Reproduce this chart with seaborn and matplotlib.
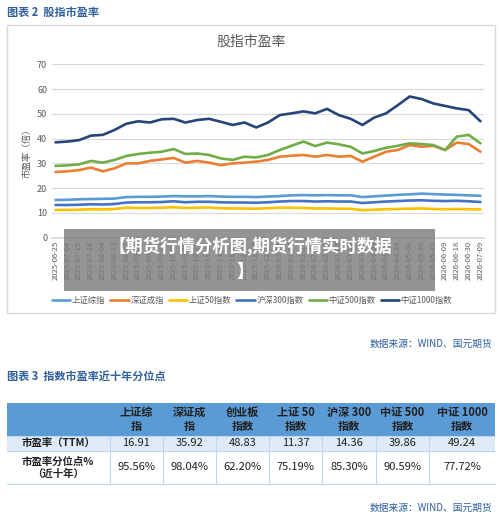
import matplotlib
matplotlib.use("Agg")
import matplotlib.pyplot as plt
import seaborn as sns
import pandas as pd
from matplotlib.patches import Rectangle

sns.set_theme(style="white")
plt.rcParams['font.family'] = ['Noto Sans CJK SC', 'DejaVu Sans']

dates = ["2025-06-25","2025-07-04","2025-07-15","2025-07-24","2025-08-04","2025-08-13","2025-08-22",
         "2025-09-02","2025-09-11","2025-09-22","2025-10-09","2025-10-20","2025-10-29","2025-11-07",
         "2025-11-18","2025-11-27","2025-12-08","2025-12-17","2025-12-26","2026-01-07","2026-01-16",
         "2026-01-27","2026-02-05","2026-02-24","2026-03-05","2026-03-16","2026-03-25","2026-04-03",
         "2026-04-15","2026-04-24","2026-05-08","2026-05-20","2026-05-29","2026-06-09","2026-06-18",
         "2026-06-30","2026-07-09"]
szzz = [15.2,15.3,15.5,15.6,15.7,15.8,16.4,16.5,16.5,16.6,16.8,16.7,16.7,16.8,16.6,16.5,16.5,16.4,16.6,16.8,17.1,17.2,17.1,17.2,17.1,17.1,16.4,16.7,17.0,17.3,17.5,17.8,17.6,17.4,17.3,17.1,16.9]
szcz = [26.5,26.8,27.3,28.3,26.8,28.0,30.0,30.0,31.0,31.6,32.2,30.3,31.0,30.3,29.3,30.0,30.3,30.7,31.4,32.7,33.1,33.4,32.7,33.4,32.7,33.0,30.7,32.7,34.7,35.4,37.4,36.7,37.1,35.4,38.4,37.8,34.7]
sz50 = [11.2,11.2,11.3,11.5,11.4,11.6,12.1,12.0,12.0,12.1,12.3,12.0,12.1,12.2,11.9,11.8,11.8,11.7,11.9,12.1,12.1,12.0,11.8,11.8,11.7,11.7,11.1,11.3,11.5,11.6,11.7,11.8,11.6,11.5,11.6,11.5,11.4]
hs300 = [13.2,13.2,13.3,13.5,13.4,13.6,14.2,14.3,14.3,14.4,14.7,14.3,14.5,14.5,14.3,14.2,14.2,14.1,14.3,14.6,14.8,14.8,14.6,14.7,14.6,14.6,14.0,14.3,14.6,14.8,15.0,15.1,14.9,14.8,14.9,14.7,14.4]
zz500 = [29.0,29.2,29.6,31.0,30.3,31.4,33.0,33.8,34.3,34.7,35.8,33.8,34.0,33.4,32.0,31.4,32.7,32.4,33.4,35.4,37.1,38.8,37.0,38.4,37.7,36.7,34.0,35.0,36.3,37.1,38.1,37.8,37.4,35.4,40.8,41.5,38.1]
zz1000 = [38.5,38.8,39.4,41.2,41.5,43.5,46.0,47.0,46.5,47.8,48.0,46.5,47.5,48.0,46.8,45.5,46.5,44.5,46.5,49.5,50.2,51.0,50.2,52.0,49.5,48.0,45.5,48.5,50.2,53.5,57.0,56.0,54.2,53.2,52.2,51.5,47.0]
series_names = ["上证综指","深证成指","上证50指数","沪深300指数","中证500指数","中证1000指数"]
colors = ["#5b9bd5","#ed7d31","#ffc000","#4472c4","#70ad47","#264478"]

tbl_cols = ["上证综\n指","深证成\n指","创业板\n指数","上证 50\n指数","沪深 300\n指数","中证 500\n指数","中证 1000\n指数"]
pe_ttm = ["16.91","35.92","48.83","11.37","14.36","39.86","49.24"]
pct = ["95.56%","98.04%","62.20%","75.19%","85.30%","90.59%","77.72%"]

rows = []
for name, vals in zip(series_names, [szzz, szcz, sz50, hs300, zz500, zz1000]):
    for i, v in enumerate(vals):
        rows.append({"idx": i, "val": v, "s": name})
df = pd.DataFrame(rows)

W, H = 500, 521
fig = plt.figure(figsize=(5.0, 5.21), dpi=100)
def fx(x): return x / W
def fy(y): return 1 - y / H

blue_txt = "#2f5f9e"
fig.text(fx(7), fy(12), "图表 2  股指市盈率", fontsize=8, color=blue_txt, va="center", ha="left", weight="bold")
fig.patches.append(Rectangle((fx(7), fy(313)), fx(488), 288 / H, transform=fig.transFigure,
                             fill=False, edgecolor="#d9d9d9", lw=1))
fig.text(fx(251), fy(42), "股指市盈率", fontsize=10, color="#595959", ha="center", va="center")

ax = fig.add_axes([fx(52), fy(237.7), fx(432), (237.7 - 64.3) / H])
sns.lineplot(data=df, x="idx", y="val", hue="s", palette=colors, hue_order=series_names,
             ax=ax, lw=1.9, legend=True)
ax.set_ylim(0, 70)
ax.set_xlim(-0.3, len(dates) - 0.7)
ax.set_yticks(range(0, 71, 10))
ax.tick_params(axis="y", labelsize=6.5, colors="#595959", length=0)
ax.set_xticks(range(len(dates)))
ax.set_xticklabels(dates, rotation=90, fontsize=5.5, color="#595959")
ax.tick_params(axis="x", length=0, pad=2)
ax.yaxis.grid(True, color="#d9d9d9", lw=0.8)
for s in ["top", "right", "left"]:
    ax.spines[s].set_visible(False)
ax.spines["bottom"].set_color("#d9d9d9")
ax.set_xlabel("")
ax.set_ylabel("市盈率（倍）", fontsize=6.5, color="#595959")
h, l = ax.get_legend_handles_labels()
ax.legend(h, l, ncol=6, loc="center", frameon=False,
          fontsize=6, handlelength=2.2, columnspacing=0.6, handletextpad=0.2, labelcolor="#595959")
leg = ax.get_legend()
leg.set_bbox_to_anchor((fx(252), fy(300)), transform=fig.transFigure)

# overlay banner
fig.patches.append(Rectangle((fx(64), fy(291)), fx(371), 62 / H, transform=fig.transFigure,
                             facecolor="#7a7a7a", alpha=0.8, edgecolor="none", zorder=10))
fig.text(fx(250), fy(246), "【期货行情分析图,期货行情实时数据", fontsize=12.5, color="white",
         weight="bold", ha="center", va="center", zorder=11)
fig.text(fx(245), fy(272), "】", fontsize=12.5, color="white", weight="bold", ha="center", va="center", zorder=11)

fig.text(fx(492), fy(344), "数据来源：WIND、国元期货", fontsize=7, color=blue_txt, ha="right", va="center")
fig.text(fx(7), fy(376), "图表 3  指数市盈率近十年分位点", fontsize=8, color=blue_txt, ha="left", va="center", weight="bold")
fig.text(fx(492), fy(508), "数据来源：WIND、国元期货", fontsize=7, color=blue_txt, ha="right", va="center")

# table
xb = [7, 110, 163, 216, 269, 322, 376, 429, 495]
yb = [403, 436, 451, 484]
fills = ["#5b9bd5", "#deebf7", "#ffffff"]
for r in range(3):
    fig.patches.append(Rectangle((fx(7), fy(yb[r + 1])), fx(488), (yb[r + 1] - yb[r]) / H,
                                 transform=fig.transFigure, facecolor=fills[r], edgecolor="none"))
for r in range(1, 3):
    for c in range(1, 8):
        fig.lines.append(plt.Line2D([fx(xb[c])] * 2, [fy(yb[r]), fy(yb[r + 1])], transform=fig.transFigure,
                                    color="#bdd7ee", lw=0.8))
for yy in yb[1:]:
    fig.lines.append(plt.Line2D([fx(7), fx(495)], [fy(yy)] * 2, transform=fig.transFigure, color="#bdd7ee", lw=0.8))
for c in range(7):
    cx = (xb[c + 1] + xb[c + 2]) / 2
    fig.text(fx(cx), fy(419.5), tbl_cols[c], fontsize=8, weight="bold", ha="center", va="center",
             color="#1f1f1f", linespacing=1.1)
    fig.text(fx(cx), fy(443.5), pe_ttm[c], fontsize=8, ha="center", va="center", color="#1f1f1f")
    fig.text(fx(cx), fy(467.5), pct[c], fontsize=8, ha="center", va="center", color="#1f1f1f")
fig.text(fx(58), fy(443.5), "市盈率（TTM）", fontsize=7.5, weight="bold", ha="center", va="center", color="#1f1f1f")
fig.text(fx(58), fy(467.5), "市盈率分位点%\n（近十年）", fontsize=7.5, weight="bold", ha="center", va="center",
         color="#1f1f1f", linespacing=1.2)

fig.savefig("out.png", dpi=100, facecolor="white")
